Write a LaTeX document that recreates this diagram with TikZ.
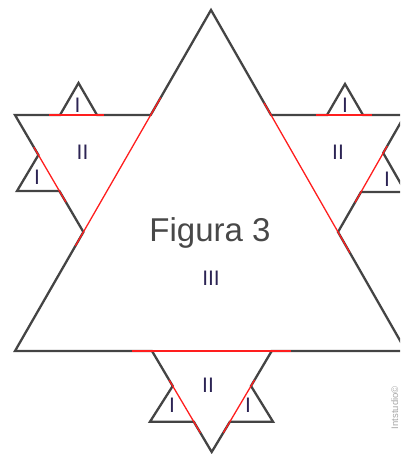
\documentclass[tikz,border=0pt]{standalone}
\usepackage{fontspec}
\setmainfont{Liberation Sans}
\usetikzlibrary{calc}
\definecolor{outl}{HTML}{444444}
\definecolor{cutred}{HTML}{FF1E1E}
\definecolor{lab}{RGB}{44,36,84}
\definecolor{titlegray}{HTML}{484848}
\tikzset{
  outline/.style={draw=outl,line width=2.3pt,line join=miter},
  cutline/.style={draw=cutred,line width=1.3pt},
  roman/.style={text=lab,font=\fontsize{21}{21}\selectfont,inner sep=0pt},
}
\begin{document}
\begin{tikzpicture}[x=1pt,y=-1pt]
\clip (0,0) rectangle (400,454);
\useasboundingbox (0,0) rectangle (400,454);
% big triangle III
\coordinate (A) at (211,10);
\coordinate (B) at (15,351);
\coordinate (C) at (406,351);
% triangles II
\coordinate (P1) at (15,115);
\coordinate (P2) at (150.7,115);
\coordinate (P3) at (83.4,232);
\coordinate (Q1) at (405,115);
\coordinate (Q2) at (271,115);
\coordinate (Q3) at (338,232);
\coordinate (R1) at (152,351);
\coordinate (R2) at (271.7,351);
\coordinate (R3) at (211.7,452);
% triangles I
\coordinate (LTa) at (60,115);
\coordinate (LTb) at (97,115);
\coordinate (LTc) at (78.5,83);
\coordinate (LSa) at (38.4,155);
\coordinate (LSb) at (59.4,191);
\coordinate (LSc) at (17,191);
\coordinate (RTa) at (327,115);
\coordinate (RTb) at (363,115);
\coordinate (RTc) at (345,84);
\coordinate (RSa) at (383.2,153);
\coordinate (RSb) at (361,192);
\coordinate (RSc) at (405.5,192);
\coordinate (BLa) at (172.7,386);
\coordinate (BLb) at (193.8,421.7);
\coordinate (BLc) at (150,421.7);
\coordinate (BRa) at (251,386);
\coordinate (BRb) at (229.9,421.7);
\coordinate (BRc) at (273,421.7);
% outline
\path[outline] (A) -- (P2) -- (LTb) -- (LTc) -- (LTa) -- (P1) -- (LSa) -- (LSc) -- (LSb) -- (P3)
  -- (B) -- (R1) -- (BLa) -- (BLc) -- (BLb) -- (R3) -- (BRb) -- (BRc) -- (BRa) -- (R2)
  -- (C) -- (Q3) -- (RSb) -- (RSc) -- (RSa) -- (Q1) -- (RTb) -- (RTc) -- (RTa) -- (Q2) -- cycle;
% red segments
\draw[cutline] ($(P3)!-16pt!(P2)$) -- ($(P2)!-20pt!(P3)$);
\draw[cutline] ($(Q3)!-24pt!(Q2)$) -- ($(Q2)!-14pt!(Q3)$);
\draw[cutline] ($(R1)!-20pt!(R2)$) -- ($(R2)!-19pt!(R1)$);
\draw[cutline] ($(LTa)!-11pt!(LTb)$) -- ($(LTb)!-7pt!(LTa)$);
\draw[cutline] ($(LSa)!-9pt!(LSb)$) -- ($(LSb)!-13pt!(LSa)$);
\draw[cutline] ($(RTa)!-11pt!(RTb)$) -- ($(RTb)!-9pt!(RTa)$);
\draw[cutline] ($(RSa)!-8pt!(RSb)$) -- ($(RSb)!-12pt!(RSa)$);
\draw[cutline] ($(BLa)!-7pt!(BLb)$) -- ($(BLb)!-13pt!(BLa)$);
\draw[cutline] ($(BRa)!-7pt!(BRb)$) -- ($(BRb)!-13pt!(BRa)$);
% labels
\node[anchor=base,text=titlegray,font=\fontsize{33}{33}\selectfont,inner sep=0pt] (title) at (210,241.5) {Figura 3};
\node[roman] (l3) at (211,278) {III};
\node[roman] (l2a) at (82.5,152) {II};
\node[roman] (l2b) at (338,152) {II};
\node[roman] (l2c) at (208,385) {II};
\node[roman] (l1a) at (77.5,105) {I};
\node[roman] (l1b) at (37,177) {I};
\node[roman] (l1c) at (345,105) {I};
\node[roman] (l1d) at (387,179) {I};
\node[roman] (l1e) at (172,405) {I};
\node[roman] (l1f) at (248,405) {I};
\node[rotate=90,anchor=south east,text=gray!70,font=\fontsize{9.5}{9.5}\selectfont,inner sep=0pt] (credit) at (398.5,386) {Intstudio\textcopyright};
\end{tikzpicture}
\end{document}
